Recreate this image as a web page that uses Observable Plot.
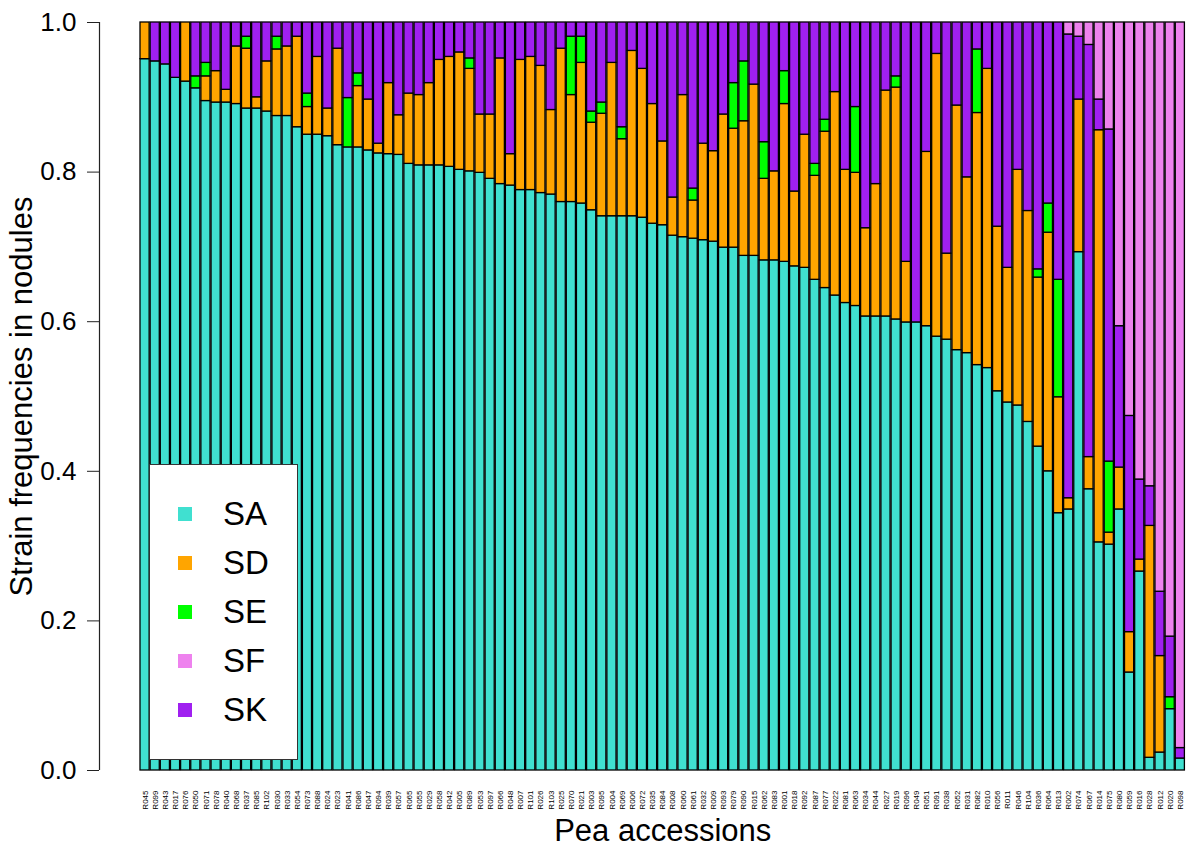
<!DOCTYPE html>
<html>
<head>
<meta charset="utf-8">
<script src="https://cdn.jsdelivr.net/npm/d3@7"></script>
<script src="https://cdn.jsdelivr.net/npm/@observablehq/plot@0.6"></script>
<style>
  body { margin: 0; background: #fff; font-family: "Liberation Sans", Arial, sans-serif; }
  #wrap { position: relative; width: 1186px; height: 853px; color: #000; }
  #legend { position: absolute; left: 149px; top: 464px; width: 149px; height: 296px; background: #fff; border: 1.5px solid #333; box-sizing: border-box; }
  .row { position: absolute; left: 0; height: 40px; display: flex; align-items: center; }
  .sw { position: absolute; left: 28px; width: 14px; height: 14px; }
  .lab { position: absolute; left: 73px; font-size: 33px; line-height: 40px; white-space: nowrap; }
</style>
</head>
<body>
<div id="wrap"></div>
<script>
// ---- data ----
const accessions = [
  "R045","R099","R043","R017","R076","R050","R071","R078","R040","R068",
  "R037","R085","R102","R030","R033","R054","R073","R088","R024","R023",
  "R041","R086","R047","R094","R039","R057","R065","R055","R029","R058",
  "R042","R005","R089","R053","R097","R066","R048","R007","R101","R026",
  "R103","R025","R070","R021","R003","R095","R004","R069","R006","R072",
  "R035","R084","R008","R060","R061","R032","R009","R093","R079","R090",
  "R015","R062","R083","R001","R018","R092","R087","R077","R022","R081",
  "R063","R034","R044","R027","R019","R096","R049","R051","R091","R038",
  "R052","R031","R082","R010","R056","R011","R046","R104","R036","R064",
  "R013","R002","R074","R067","R014","R075","R080","R059","R016","R028",
  "R012","R020","R098"
];

const strains = ["SA", "SD", "SE", "SF", "SK"];
const strainColors = ["#40E0D0", "#FFA500", "#00FF00", "#EE82EE", "#A020F0"];
const stackOrder = ["SA", "SD", "SE", "SK", "SF"];

const SA = [
  .951,.948,.944,.926,.921,.912,.895,.893,.893,.891,
  .885,.885,.881,.875,.875,.860,.850,.850,.848,.836,
  .833,.833,.829,.825,.824,.823,.811,.809,.809,.809,
  .807,.803,.801,.799,.791,.784,.782,.776,.776,.772,
  .770,.760,.760,.758,.749,.741,.741,.741,.741,.739,
  .731,.729,.715,.713,.711,.709,.707,.699,.699,.688,
  .688,.682,.682,.680,.674,.672,.656,.645,.635,.625,
  .621,.607,.607,.607,.603,.599,.599,.594,.580,.576,
  .562,.558,.542,.538,.507,.492,.488,.466,.433,.400,
  .344,.349,.693,.376,.305,.302,.349,.131,.266,.017,
  .024,.082,.016
];
const SD = [
  .049,0,0,0,.079,0,.033,.042,.017,.077,
  .080,.015,.067,.089,.093,.121,.037,.104,.037,.129,
  0,.082,.068,.013,.095,.053,.094,.094,.110,.141,
  .147,.157,.137,.078,.086,.168,.042,.174,.178,.170,
  .113,.205,.143,.188,.117,.137,.205,.103,.221,.199,
  .160,.112,.051,.190,.051,.129,.121,.178,.159,.180,
  .229,.109,.119,.211,.100,.178,.139,.209,.272,.178,
  .178,.118,.177,.302,.310,.081,0,.233,.378,.115,
  .327,.235,.337,.400,.220,.180,.315,.282,.226,.319,
  .155,.015,.204,.043,.551,.016,.056,.054,.016,.310,
  .129,0,0
];
const SE = [
  0,0,0,0,0,.016,.018,0,0,0,
  .016,0,0,.017,0,0,.018,0,0,0,
  .066,.017,0,0,0,0,0,0,0,0,
  0,0,.014,0,0,0,0,0,0,0,
  0,0,.078,.035,.015,.015,0,.016,0,0,
  0,0,0,0,.016,0,0,0,.061,.080,
  0,.049,0,.044,0,0,.016,.016,0,0,
  .088,0,0,0,.015,0,0,0,0,0,
  0,0,.085,0,0,0,0,0,.011,.039,
  .157,0,0,0,0,.095,0,0,0,0,
  0,.016,0
];
const SK = [
  0,.052,.056,.074,0,.072,.054,.065,.090,.032,
  .019,.100,.052,.019,.032,.019,.095,.046,.115,.035,
  .101,.068,.103,.162,.081,.124,.095,.097,.081,.050,
  .046,.040,.048,.123,.123,.048,.176,.050,.046,.058,
  .117,.035,.019,.019,.119,.107,.054,.140,.038,.062,
  .109,.159,.234,.097,.222,.162,.172,.123,.081,.052,
  .083,.160,.199,.065,.226,.150,.189,.130,.093,.197,
  .113,.275,.216,.091,.072,.320,.401,.173,.042,.309,
  .111,.207,.036,.062,.273,.328,.197,.252,.330,.242,
  .344,.620,.084,.551,.041,.444,.189,.289,.107,.053,
  .086,.081,.014
];
const SF = [
  0,0,0,0,0,0,0,0,0,0,
  0,0,0,0,0,0,0,0,0,0,
  0,0,0,0,0,0,0,0,0,0,
  0,0,0,0,0,0,0,0,0,0,
  0,0,0,0,0,0,0,0,0,0,
  0,0,0,0,0,0,0,0,0,0,
  0,0,0,0,0,0,0,0,0,0,
  0,0,0,0,0,0,0,0,0,0,
  0,0,0,0,0,0,0,0,0,0,
  0,.016,.019,.030,.103,.143,.406,.526,.611,.620,
  .761,.821,.970
];
const yTicks = [0, 0.2, 0.4, 0.6, 0.8, 1.0];
const yTitle = "Strain frequencies in nodules";
const xTitle = "Pea accessions";

// ---- table ----
const series = {SA, SD, SE, SF, SK};
const rows = [];
accessions.forEach((acc, i) => {
  stackOrder.forEach(s => {
    const v = series[s][i];
    if (v > 0) rows.push({acc, strain: s, value: v});
  });
});

const W = 1186, H = 853, mL = 140, mR = 1.6, mT = 22, mB = 83;
const axisX = 99;
const frameCenter = (mL + W - mR) / 2;

const chart = Plot.plot({
  width: W,
  height: H,
  marginTop: mT,
  marginBottom: mB,
  marginLeft: mL,
  marginRight: mR,
  style: {fontFamily: "'Liberation Sans', Arial, sans-serif", background: "#fff", color: "#000"},
  x: {type: "band", domain: accessions, paddingInner: 0.1, paddingOuter: 0, align: 0, round: false},
  y: {domain: [0, 1]},
  color: {domain: strains, range: strainColors},
  marks: [
    Plot.barY(rows, {x: "acc", y: "value", fill: "strain", order: stackOrder, stroke: "#000", strokeWidth: 1.3}),
    Plot.axisY({ticks: yTicks, tickFormat: d3.format(".1f"), tickSize: 12, tickPadding: 11, dx: axisX - mL, fontSize: 26, label: null, stroke: "#222"}),
    Plot.ruleX([0], {x: null, y1: () => 0, y2: () => 1, dx: axisX - frameCenter, stroke: "#222", strokeWidth: 1.2}),
    Plot.axisX({tickSize: 0, tickRotate: -90, tickPadding: 20, fontSize: 8, label: null}),
    Plot.text([yTitle], {text: d => d, frameAnchor: "left", textAnchor: "middle", rotate: -90, dx: 22 - mL, fontSize: 31}),
    Plot.text([xTitle], {text: d => d, frameAnchor: "bottom", dy: 70, fontSize: 31})
  ]
});

const wrap = document.getElementById("wrap");
wrap.appendChild(chart);

// legend overlay
const legend = document.createElement("div");
legend.id = "legend";
strains.forEach((s, i) => {
  const row = document.createElement("div");
  row.className = "row";
  row.style.top = (29 + 49 * i) + "px";
  const sw = document.createElement("div");
  sw.className = "sw";
  sw.style.background = strainColors[i];
  sw.style.top = "13px";
  const lab = document.createElement("div");
  lab.className = "lab";
  lab.textContent = s;
  row.appendChild(sw);
  row.appendChild(lab);
  legend.appendChild(row);
});
wrap.appendChild(legend);
</script>
</body>
</html>
